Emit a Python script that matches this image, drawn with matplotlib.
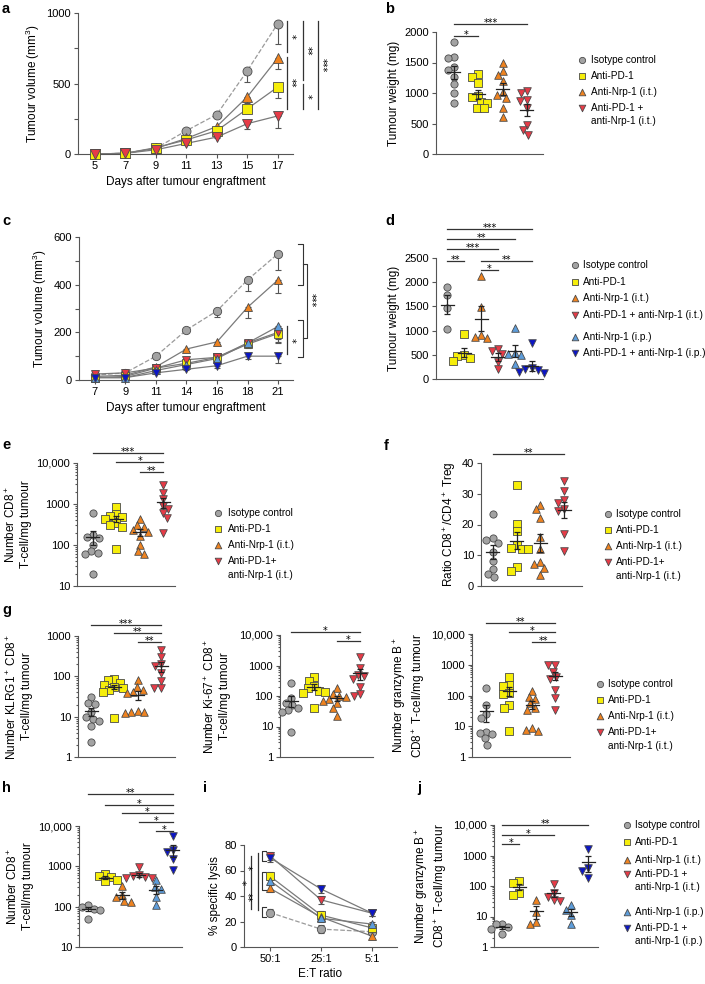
import numpy as np
import matplotlib
matplotlib.use("Agg")
import matplotlib.pyplot as plt
from matplotlib.ticker import FuncFormatter, LogLocator, MultipleLocator, NullFormatter

plt.rcParams["font.family"] = ["Liberation Sans", "DejaVu Sans"]
plt.rcParams["mathtext.fontset"] = "custom"
plt.rcParams["mathtext.rm"] = "Liberation Sans"
plt.rcParams["mathtext.it"] = "Liberation Sans:italic"
plt.rcParams["mathtext.bf"] = "Liberation Sans:bold"

W, H = 705, 984
AXC = "#555555"
EDGE = "#4a4a4a"

COLORS = {
    "iso": "#a3a3a3",
    "pd1": "#f6ee0a",
    "nrp_it": "#ef8320",
    "combo_it": "#e63b47",
    "nrp_ip": "#5d9ddb",
    "combo_ip": "#0c16c4",
}
MARKERS = {"iso": "o", "pd1": "s", "nrp_it": "^", "combo_it": "v", "nrp_ip": "^", "combo_ip": "v"}
SIZES = {"o": 27, "s": 26, "^": 30, "v": 30}

GROUPS4 = ["iso", "pd1", "nrp_it", "combo_it"]
GROUPS6 = ["iso", "pd1", "nrp_it", "combo_it", "nrp_ip", "combo_ip"]

# ---- panel a: tumour growth
a_days = [5, 7, 9, 11, 13, 15, 17]
a_iso = [0, 5, 40, 165, 280, 590, 925]
a_iso_err = [0, 2, 5, 15, 25, 80, 145]
a_pd1 = [0, 5, 45, 100, 165, 320, 475]
a_pd1_err = [0, 2, 5, 10, 15, 30, 80]
a_nrp_it = [0, 5, 40, 110, 195, 405, 680]
a_nrp_it_err = [0, 2, 5, 10, 15, 45, 80]
a_combo_it = [0, 5, 30, 75, 120, 215, 270]
a_combo_it_err = [0, 2, 5, 8, 10, 35, 85]

# ---- panel b: tumour weight
b_iso = [1830, 1590, 1570, 1430, 1380, 1270, 1140, 1000, 830]
b_pd1 = [1310, 1260, 1170, 950, 930, 850, 840, 760, 750]
b_nrp_it = [1500, 1360, 1290, 1190, 1010, 960, 920, 760, 600]
b_combo_it = [1040, 1000, 880, 870, 760, 480, 390, 310]

# ---- panel c: tumour growth, 6 groups
c_days = ["7", "9", "11", "14", "16", "18", "21"]
c_iso = [20, 30, 100, 210, 290, 420, 530]
c_iso_err = [3, 3, 5, 10, 25, 45, 70]
c_nrp_it = [15, 20, 55, 130, 160, 305, 420]
c_nrp_it_err = [3, 3, 5, 8, 10, 45, 55]
c_pd1 = [10, 15, 50, 70, 95, 150, 195]
c_pd1_err = [3, 3, 5, 8, 10, 15, 35]
c_combo_it = [25, 30, 50, 85, 95, 155, 200]
c_combo_it_err = [3, 3, 5, 8, 10, 15, 45]
c_nrp_ip = [10, 10, 40, 65, 90, 155, 225]
c_nrp_ip_err = [3, 3, 5, 8, 10, 15, 55]
c_combo_ip = [10, 10, 30, 45, 60, 100, 100]
c_combo_ip_err = [3, 3, 5, 5, 8, 10, 30]

# ---- panel d: tumour weight, 6 groups
d_iso = [1910, 1740, 1460, 1040]
d_pd1 = [940, 500, 480, 430, 380]
d_nrp_it = [2130, 1490, 900, 870, 850]
d_combo_it = [620, 570, 520, 360, 210]
d_nrp_ip = [1050, 530, 520, 500, 300]
d_combo_ip = [750, 220, 200, 180, 150, 130]

# ---- panel e: CD8 T cells
e_iso = [600, 180, 160, 150, 100, 70, 65, 60, 20]
e_pd1 = [850, 580, 520, 480, 420, 350, 300, 280, 80]
e_nrp_it = [420, 300, 270, 230, 210, 170, 100, 70, 60]
e_combo_it = [2900, 1900, 1300, 900, 750, 600, 450, 200]

# ---- panel f: CD8/Treg ratio
f_iso = [23.5, 15.5, 15, 14, 11, 8, 5.5, 4, 3]
f_pd1 = [32.7, 20.3, 18, 13.3, 12.5, 12, 12, 6.2, 5]
f_nrp_it = [26.5, 25, 22, 16, 12, 7.7, 7, 6, 3.5]
f_combo_it = [34, 31, 28, 27, 25, 24.5, 17, 11.3]

# ---- panel g: KLRG1+, Ki-67+, granzyme B+ CD8 T cells
g1_iso = [31, 22, 21, 13, 10, 9, 8, 6, 2.3]
g1_pd1 = [85, 80, 70, 60, 55, 50, 45, 40, 9.5]
g1_nrp_it = [80, 55, 45, 40, 38, 14, 13, 13, 12]
g1_combo_it = [450, 300, 200, 180, 120, 75, 50, 50]
g2_iso = [260, 85, 60, 50, 40, 35, 30, 6.5]
g2_pd1 = [420, 300, 220, 180, 150, 140, 130, 40]
g2_nrp_it = [180, 120, 100, 90, 80, 70, 60, 40, 22]
g2_combo_it = [1900, 800, 500, 450, 350, 200, 120, 100]
g3_iso = [170, 50, 25, 18, 6.5, 6, 5.5, 4, 2.5]
g3_pd1 = [400, 220, 200, 120, 110, 50, 38, 7]
g3_nrp_it = [140, 90, 75, 55, 40, 35, 9, 7.5, 7]
g3_combo_it = [950, 950, 600, 400, 350, 150, 80, 35]

# ---- panel h: CD8 T cells, 6 groups
h_iso = [110, 100, 90, 85, 50]
h_pd1 = [650, 560, 530, 470, 430]
h_nrp_it = [330, 200, 170, 140, 130]
h_combo_it = [950, 600, 560, 540, 520, 500]
h_nrp_ip = [450, 310, 280, 170, 110]
h_combo_ip = [5500, 2500, 2300, 1500, 800]

# ---- panel i: specific lysis
i_ratio = ["50:1", "25:1", "5:1"]
i_iso = [27, 14, 12]
i_pd1 = [55.5, 25, 15]
i_nrp_it = [46, 23.5, 8.5]
i_combo_it = [71.5, 37, 26.5]
i_nrp_ip = [52, 22.5, 18]
i_combo_ip = [70, 45.5, 26.5]
i_err = [3, 3, 2]

# ---- panel j: granzyme B+ CD8 T cells, 6 groups
j_iso = [5.8, 5.5, 4.5, 3.8, 2.7]
j_pd1 = [145, 125, 60, 50]
j_nrp_it = [35, 14, 6.5, 5.8]
j_combo_it = [120, 60, 45, 35, 32]
j_nrp_ip = [23, 16, 11, 5.5]
j_combo_ip = [1600, 380, 300, 180]


def px_axes(fig, l, t, r, b):
    return fig.add_axes([l / W, 1 - b / H, (r - l) / W, (b - t) / H])


def style_axes(ax):
    ax.patch.set_visible(False)
    for s in ("top", "right"):
        ax.spines[s].set_visible(False)
    for s in ("left", "bottom"):
        ax.spines[s].set_color(AXC)
        ax.spines[s].set_linewidth(0.8)
    ax.tick_params(which="both", direction="out", color=AXC, width=0.8, labelsize=8, pad=2)
    ax.tick_params(which="major", length=3)
    ax.tick_params(which="minor", length=1.6)


def log_fmt(v, pos):
    return f"{v:,.0f}" if v >= 10000 else f"{v:.0f}"


def log_axis(ax, lo, hi):
    ax.set_yscale("log")
    ax.set_ylim(lo, hi)
    ax.yaxis.set_major_locator(LogLocator(base=10, numticks=12))
    ax.yaxis.set_minor_locator(LogLocator(base=10, subs=np.arange(2, 10), numticks=12))
    ax.yaxis.set_major_formatter(FuncFormatter(log_fmt))
    ax.yaxis.set_minor_formatter(NullFormatter())


def px_per_unit(ax):
    y0 = ax.get_ylim()[0]
    p0 = ax.transData.transform((0, y0))
    p1 = ax.transData.transform((1, y0))
    return p1[0] - p0[0]


def swarm_x(ax, x0, vals, diam):
    # simple beeswarm in display pixels
    pts = ax.transData.transform(np.column_stack([np.full(len(vals), x0), vals]))
    ys = pts[:, 1]
    xc = pts[0, 0]
    offs = np.zeros(len(vals))
    placed = []
    for i in np.argsort(-ys):
        y = ys[i]
        spans = []
        for px, py in placed:
            dy = abs(py - y)
            if dy < diam:
                dx = np.sqrt(diam ** 2 - dy ** 2)
                spans.append((px - dx, px + dx))
        cands = sorted([0.0] + [e for sp in spans for e in sp], key=abs)
        for c in cands:
            if all(not (lo + 1e-6 < c < hi - 1e-6) for lo, hi in spans):
                break
        placed.append((c, y))
        offs[i] = c
    back = ax.transData.inverted().transform(np.column_stack([xc + offs, ys]))
    return back[:, 0]


def dotplot(ax, x0, vals, key):
    vals = np.asarray(vals, dtype=float)
    xs = swarm_x(ax, x0, vals, 6.6)
    m = MARKERS[key]
    ax.scatter(xs, vals, s=SIZES[m], marker=m, c=COLORS[key], edgecolors=EDGE,
               linewidths=0.6, zorder=3, clip_on=False)
    mean = vals.mean()
    sem = vals.std(ddof=1) / np.sqrt(len(vals))
    hw = 6.5 / px_per_unit(ax)
    ax.plot([x0 - hw, x0 + hw], [mean, mean], color="#222222", lw=0.9, zorder=4)
    ax.errorbar(x0, mean, yerr=sem, fmt="none", ecolor="#222222", elinewidth=0.9,
                capsize=2.4, capthick=0.9, zorder=4)


def dot_panel(ax, groups, data, xlim, ylim, log=False):
    style_axes(ax)
    ax.set_xlim(*xlim)
    if log:
        log_axis(ax, *ylim)
    else:
        ax.set_ylim(*ylim)
    ax.tick_params(axis="x", which="both", bottom=False, labelbottom=False)
    for i, (key, vals) in enumerate(zip(groups, data)):
        dotplot(ax, i, vals, key)


STAR = dict(fontsize=7, family="DejaVu Sans")


def sig_bar(ax, x1, x2, y, label):
    ax.plot([x1, x2], [y, y], color="#333333", lw=0.9, clip_on=False)
    ax.annotate(label, (0.5 * (x1 + x2), y), xytext=(0, -1.6), textcoords="offset points",
                ha="center", va="baseline", annotation_clip=False, **STAR)


def sig_vline(ax, x, y1, y2, label, side=1):
    ax.plot([x, x], [y1, y2], color="#333333", lw=0.9, clip_on=False)
    ax.annotate(label, (x, 0.5 * (y1 + y2)), xytext=(2.6 * side, 0), textcoords="offset points",
                ha="center", va="center", rotation=-90 * side, annotation_clip=False, **STAR)


def bracket(ax, x_tip, x_back, y1, y2):
    ax.plot([x_tip, x_back, x_back, x_tip], [y1, y1, y2, y2], color="#333333", lw=0.8,
            clip_on=False)


def line_series(ax, x, y, err, key, dashed=False, ms=6.5):
    ax.errorbar(x, y, yerr=[err, np.zeros(len(err))], fmt="none", ecolor="#555555",
                elinewidth=0.8, capsize=2.5, capthick=0.8, zorder=2)
    ax.plot(x, y, ls="--" if dashed else "-", color="#9a9a9a" if dashed else "#7a7a7a",
            lw=0.9, zorder=2)
    ax.plot(x, y, ls="none", marker=MARKERS[key], ms=ms, mfc=COLORS[key], mec=EDGE,
            mew=0.6, zorder=3, clip_on=False)


def draw_legend(ov, x_mark, x_text, rows):
    for key, label, y in rows:
        if key is not None:
            m = MARKERS[key]
            ov.scatter([x_mark], [y], s=SIZES[m] * 0.75, marker=m, c=COLORS[key],
                       edgecolors=EDGE, linewidths=0.6)
        ov.text(x_text, y, label, fontsize=7.2, va="center", ha="left")


def main():
    fig = plt.figure(figsize=(W / 100, H / 100), dpi=100)

    ov = fig.add_axes([0, 0, 1, 1])
    ov.set_xlim(0, W)
    ov.set_ylim(H, 0)
    ov.axis("off")

    label_fs = 8.5

    # ---------------- a
    ax = px_axes(fig, 78, 13, 293, 154)
    style_axes(ax)
    ax.set_xlim(3.9, 18)
    ax.set_ylim(0, 1000)
    ax.yaxis.set_major_locator(MultipleLocator(500))
    ax.yaxis.set_minor_locator(MultipleLocator(250))
    ax.tick_params(axis="y", which="minor", length=3)
    ax.set_xticks(a_days)
    line_series(ax, a_days, a_iso, a_iso_err, "iso", dashed=True)
    line_series(ax, a_days, a_nrp_it, a_nrp_it_err, "nrp_it")
    line_series(ax, a_days, a_pd1, a_pd1_err, "pd1")
    line_series(ax, a_days, a_combo_it, a_combo_it_err, "combo_it")
    ax.set_xlabel("Days after tumour engraftment", fontsize=label_fs, labelpad=4)
    ax.set_ylabel("Tumour volume (mm$^3$)", fontsize=label_fs, labelpad=3)
    sig_vline(ax, 17.59, 943, 723, "*")
    sig_vline(ax, 17.59, 688, 319, "**")
    sig_vline(ax, 18.64, 943, 525, "**")
    sig_vline(ax, 18.64, 496, 319, "*")
    sig_vline(ax, 19.62, 943, 319, "***")

    # ---------------- b
    ax = px_axes(fig, 436, 32, 543, 154)
    dot_panel(ax, GROUPS4, [b_iso, b_pd1, b_nrp_it, b_combo_it], (-0.74, 3.66), (0, 2000))
    ax.yaxis.set_major_locator(MultipleLocator(500))
    ax.set_ylabel("Tumour weight (mg)", fontsize=label_fs, labelpad=3)
    sig_bar(ax, 0, 1, 1934, "*")
    sig_bar(ax, 0, 3, 2131, "***")
    draw_legend(ov, 582, 591, [("iso", "Isotype control", 60), ("pd1", "Anti-PD-1", 76),
                               ("nrp_it", "Anti-Nrp-1 (i.t.)", 92),
                               ("combo_it", "Anti-PD-1 +", 108), (None, "anti-Nrp-1 (i.t.)", 121)])

    # ---------------- c
    ax = px_axes(fig, 79, 237, 293, 380)
    style_axes(ax)
    ax.set_xlim(-0.52, 6.49)
    ax.set_ylim(0, 600)
    ax.yaxis.set_major_locator(MultipleLocator(200))
    ax.yaxis.set_minor_locator(MultipleLocator(100))
    ax.tick_params(axis="y", which="minor", length=3)
    xc = np.arange(len(c_days))
    ax.set_xticks(xc)
    ax.set_xticklabels(c_days)
    line_series(ax, xc, c_iso, c_iso_err, "iso", dashed=True, ms=6)
    line_series(ax, xc, c_nrp_it, c_nrp_it_err, "nrp_it", ms=6)
    line_series(ax, xc, c_pd1, c_pd1_err, "pd1", ms=6)
    line_series(ax, xc, c_combo_it, c_combo_it_err, "combo_it", ms=6)
    line_series(ax, xc, c_nrp_ip, c_nrp_ip_err, "nrp_ip", ms=6)
    line_series(ax, xc, c_combo_ip, c_combo_ip_err, "combo_ip", ms=6)
    ax.set_xlabel("Days after tumour engraftment", fontsize=label_fs, labelpad=4)
    ax.set_ylabel("Tumour volume (mm$^3$)", fontsize=label_fs, labelpad=3)
    bracket(ax, 6.66, 6.82, 571, 399)
    bracket(ax, 6.66, 6.82, 252, 97)
    bracket(ax, 6.82, 6.95, 487, 176)
    ax.annotate("***", (6.95, 336), xytext=(2.6, 0), textcoords="offset points", ha="center",
                va="center", rotation=-90, annotation_clip=False, **STAR)
    sig_vline(ax, 6.30, 227, 109, "*")

    # ---------------- d
    ax = px_axes(fig, 436, 258, 543, 379)
    dot_panel(ax, GROUPS6, [d_iso, d_pd1, d_nrp_it, d_combo_it, d_nrp_ip, d_combo_ip],
              (-0.65, 5.65), (0, 2500))
    ax.yaxis.set_major_locator(MultipleLocator(500))
    ax.set_ylabel("Tumour weight (mg)", fontsize=label_fs, labelpad=3)
    sig_bar(ax, 0, 5, 3099, "***")
    sig_bar(ax, 0, 4, 2893, "**")
    sig_bar(ax, 0, 3, 2686, "***")
    sig_bar(ax, 0, 1, 2438, "**")
    sig_bar(ax, 2, 5, 2438, "**")
    sig_bar(ax, 2, 3, 2252, "*")
    draw_legend(ov, 575, 583, [("iso", "Isotype control", 265), ("pd1", "Anti-PD-1", 282),
                               ("nrp_it", "Anti-Nrp-1 (i.t.)", 298),
                               ("combo_it", "Anti-PD-1 + anti-Nrp-1 (i.t.)", 315),
                               ("nrp_ip", "Anti-Nrp-1 (i.p.)", 337),
                               ("combo_ip", "Anti-PD-1 + anti-Nrp-1 (i.p.)", 353)])

    legend4 = lambda y0: [("iso", "Isotype control", y0), ("pd1", "Anti-PD-1", y0 + 16),
                          ("nrp_it", "Anti-Nrp-1 (i.t.)", y0 + 32),
                          ("combo_it", "Anti-PD-1+", y0 + 48), (None, "anti-Nrp-1 (i.t.)", y0 + 62)]

    # ---------------- e
    ax = px_axes(fig, 77, 463, 175, 586)
    dot_panel(ax, GROUPS4, [e_iso, e_pd1, e_nrp_it, e_combo_it], (-0.68, 3.49), (10, 10000), log=True)
    ax.set_ylabel("Number CD8$^+$\nT-cell/mg tumour", fontsize=label_fs, labelpad=3)
    sig_bar(ax, 0, 3, 17540, "***")
    sig_bar(ax, 1, 3, 10570, "*")
    sig_bar(ax, 2, 3, 6030, "**")
    draw_legend(ov, 218, 228, legend4(513))

    # ---------------- f
    ax = px_axes(fig, 481, 463, 582, 586)
    dot_panel(ax, GROUPS4, [f_iso, f_pd1, f_nrp_it, f_combo_it], (-0.5, 3.75), (0, 40))
    ax.yaxis.set_major_locator(MultipleLocator(10))
    ax.set_ylabel("Ratio CD8$^+$/CD4$^+$ Treg", fontsize=label_fs, labelpad=3)
    sig_bar(ax, 0, 3, 42.9, "**")
    draw_legend(ov, 608, 616, legend4(514))

    # ---------------- g
    ax = px_axes(fig, 78, 636, 175, 757)
    dot_panel(ax, GROUPS4, [g1_iso, g1_pd1, g1_nrp_it, g1_combo_it], (-0.56, 3.6), (1, 1000), log=True)
    ax.set_ylabel("Number KLRG1$^+$ CD8$^+$\nT-cell/mg tumour", fontsize=label_fs, labelpad=10)
    sig_bar(ax, 0, 3, 1875, "***")
    sig_bar(ax, 1, 3, 1187, "**")
    sig_bar(ax, 2, 3, 710, "**")

    ax = px_axes(fig, 280, 635, 373, 757)
    dot_panel(ax, GROUPS4, [g2_iso, g2_pd1, g2_nrp_it, g2_combo_it], (-0.48, 3.57), (1, 10000), log=True)
    ax.set_ylabel("Number Ki-67$^+$ CD8$^+$\nT-cell/mg tumour", fontsize=label_fs, labelpad=6)
    sig_bar(ax, 0, 3, 12560, "*")
    sig_bar(ax, 2, 3, 6330, "*")

    ax = px_axes(fig, 472, 634, 570, 757)
    dot_panel(ax, GROUPS4, [g3_iso, g3_pd1, g3_nrp_it, g3_combo_it], (-0.61, 3.65), (1, 10000), log=True)
    ax.set_ylabel("Number granzyme B$^+$\nCD8$^+$ T-cell/mg tumour", fontsize=label_fs, labelpad=3)
    sig_bar(ax, 0, 3, 23100, "**")
    sig_bar(ax, 1, 3, 11650, "*")
    sig_bar(ax, 2, 3, 5440, "**")
    draw_legend(ov, 600, 608, legend4(684))

    # ---------------- h
    ax = px_axes(fig, 79, 826, 182, 947)
    dot_panel(ax, GROUPS6, [h_iso, h_pd1, h_nrp_it, h_combo_it, h_nrp_ip, h_combo_ip],
              (-0.53, 5.53), (10, 10000), log=True)
    ax.set_ylabel("Number CD8$^+$\nT-cell/mg tumour", fontsize=label_fs, labelpad=3)
    sig_bar(ax, 0, 5, 61600, "**")
    sig_bar(ax, 1, 5, 33000, "*")
    sig_bar(ax, 2, 5, 20900, "*")
    sig_bar(ax, 3, 5, 12560, "*")
    sig_bar(ax, 4, 5, 7530, "*")

    # ---------------- i
    ax = px_axes(fig, 244, 845, 397, 947)
    style_axes(ax)
    ax.set_xlim(-0.51, 2.49)
    ax.set_ylim(0, 80)
    ax.yaxis.set_major_locator(MultipleLocator(20))
    xi = np.arange(len(i_ratio))
    ax.set_xticks(xi)
    ax.set_xticklabels(i_ratio)
    for key, vals in [("iso", i_iso), ("pd1", i_pd1), ("nrp_it", i_nrp_it),
                      ("nrp_ip", i_nrp_ip), ("combo_it", i_combo_it), ("combo_ip", i_combo_ip)]:
        ax.errorbar(xi, vals, yerr=i_err, fmt="none", ecolor="#555555", elinewidth=0.8,
                    capsize=2.2, capthick=0.8, zorder=2)
        ax.plot(xi, vals, ls="--" if key == "iso" else "-",
                color="#9a9a9a" if key == "iso" else "#7a7a7a", lw=0.9, zorder=2)
        ax.plot(xi, vals, ls="none", marker=MARKERS[key], ms=6, mfc=COLORS[key], mec=EDGE,
                mew=0.6, zorder=3, clip_on=False)
    ax.set_xlabel("E:T ratio", fontsize=label_fs, labelpad=3)
    ax.set_ylabel("% specific lysis", fontsize=label_fs, labelpad=3)
    bracket(ax, -0.08, -0.16, 75.3, 67.5)
    bracket(ax, -0.08, -0.16, 58.8, 44.7)
    bracket(ax, -0.08, -0.16, 31.4, 23.5)
    sig_vline(ax, -0.24, 73.7, 51, "*", side=-1)
    sig_vline(ax, -0.24, 50.2, 29, "**", side=-1)
    sig_vline(ax, -0.37, 71.4, 29.8, "*", side=-1)

    # ---------------- j
    ax = px_axes(fig, 494, 825, 598, 947)
    dot_panel(ax, GROUPS6, [j_iso, j_pd1, j_nrp_it, j_combo_it, j_nrp_ip, j_combo_ip],
              (-0.47, 5.58), (1, 10000), log=True)
    ax.set_ylabel("Number granzyme B$^+$\nCD8$^+$ T-cell/mg tumour", fontsize=label_fs, labelpad=3)
    sig_bar(ax, 0, 5, 10000, "**")
    sig_bar(ax, 0, 3, 4700, "*")
    sig_bar(ax, 0, 1, 2380, "*")
    draw_legend(ov, 627, 635, [("iso", "Isotype control", 825), ("pd1", "Anti-PD-1", 842),
                               ("nrp_it", "Anti-Nrp-1 (i.t.)", 860),
                               ("combo_it", "Anti-PD-1 +", 874), (None, "anti-Nrp-1 (i.t.)", 887),
                               ("nrp_ip", "Anti-Nrp-1 (i.p.)", 912),
                               ("combo_ip", "Anti-PD-1 +", 928), (None, "anti-Nrp-1 (i.p.)", 941)])

    # panel letters
    for letter, x, y in [("a", 2, 13), ("b", 385, 13), ("c", 2, 225), ("d", 385, 225),
                         ("e", 2, 449), ("f", 384, 450), ("g", 2, 614), ("h", 2, 792),
                         ("i", 203, 792), ("j", 417, 792)]:
        ov.text(x, y, letter, fontsize=10.5, fontweight="bold", va="baseline", ha="left")

    fig.savefig("out.png", dpi=100)
    plt.close(fig)


if __name__ == "__main__":
    main()
